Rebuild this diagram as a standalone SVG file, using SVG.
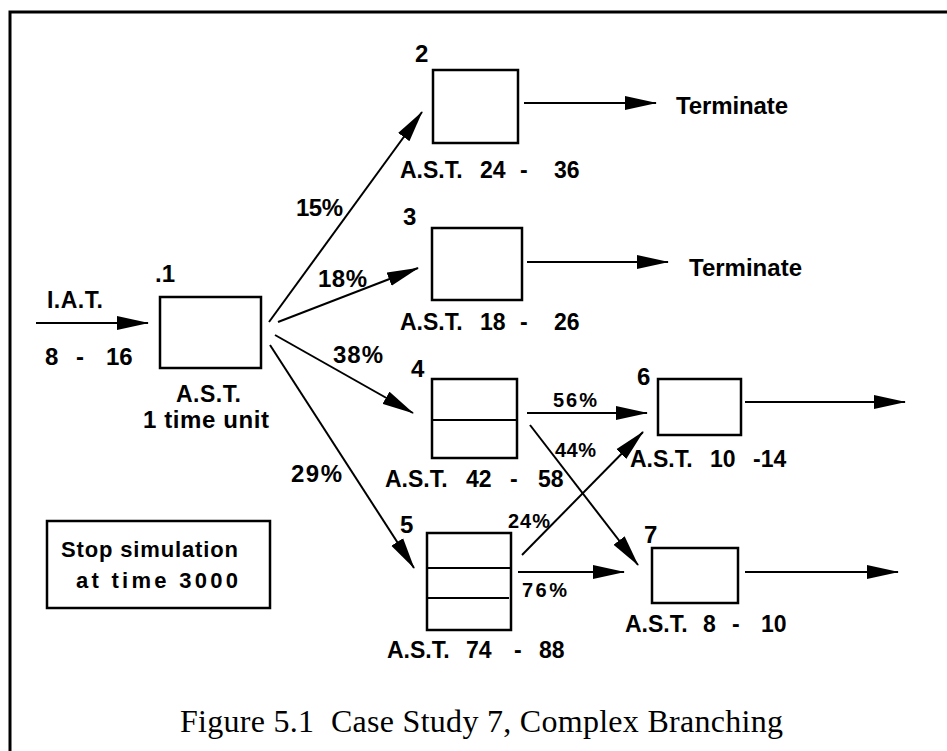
<svg xmlns="http://www.w3.org/2000/svg" width="947" height="751" viewBox="0 0 947 751">
<style>
.t{font-family:"Liberation Sans",Arial,sans-serif;font-weight:bold;font-size:24px;fill:#000}
.a{font-size:23px}
.s{font-size:23px}
.m{font-size:22px}
.p{font-size:20px}
.cap{font-family:"Liberation Serif","Times New Roman",serif;font-size:32px;fill:#000}
.box{fill:#fff;stroke:#000;stroke-width:2.5}
.div{stroke:#000;stroke-width:2}
.c{stroke:#000;stroke-width:2;fill:none;marker-end:url(#ah)}
</style>
<defs>
<marker id="ah" markerUnits="userSpaceOnUse" markerWidth="32" markerHeight="15" refX="31" refY="7.5" orient="auto" viewBox="0 0 32 15">
<path d="M0,0.5 L32,7.5 L0,14.5 z" fill="#000"/>
</marker>
</defs>
<rect width="947" height="751" fill="#fff"/>
<path d="M10,751 L10,12 L947,12" fill="none" stroke="#000" stroke-width="3"/>

<g id="connectors">
<line class="c" x1="36" y1="323" x2="148" y2="323"/>
<line class="c" x1="269" y1="322" x2="422" y2="112"/>
<line class="c" x1="278" y1="322" x2="418" y2="268"/>
<line class="c" x1="275" y1="335" x2="413" y2="413"/>
<line class="c" x1="270" y1="345" x2="414" y2="568"/>
<line class="c" x1="524" y1="103" x2="656" y2="103"/>
<line class="c" x1="527" y1="262" x2="668" y2="262"/>
<line class="c" x1="527" y1="413" x2="647" y2="413"/>
<line class="c" x1="530" y1="425" x2="638" y2="565"/>
<line class="c" x1="522" y1="555" x2="643" y2="432"/>
<line class="c" x1="518" y1="572" x2="624" y2="572"/>
<line class="c" x1="745" y1="402" x2="905" y2="402"/>
<line class="c" x1="745" y1="572" x2="898" y2="572"/>
</g>

<g id="labels">
<text class="t s" x="47" y="308" textLength="56">I.A.T.</text>
<text class="t" y="365"><tspan x="45">8</tspan> <tspan x="76">-</tspan> <tspan x="106">16</tspan></text>
<text class="t" x="296" y="216" textLength="47">15%</text>
<text class="t" x="318" y="287" textLength="49">18%</text>
<text class="t" x="333" y="363" textLength="50">38%</text>
<text class="t" x="291" y="482" textLength="51">29%</text>
<text class="t p" x="553" y="407" textLength="44">56%</text>
<text class="t p" x="555" y="457" textLength="41">44%</text>
<text class="t p" x="508" y="528" textLength="42">24%</text>
<text class="t p" x="522" y="597" textLength="45">76%</text>
<text class="t" x="676" y="114" textLength="112">Terminate</text>
<text class="t" x="689" y="276" textLength="113">Terminate</text>
</g>

<g id="node1">
<rect class="box" x="160" y="297" width="101" height="71"/>
<text class="t" x="155" y="282">.1</text>
<text class="t a" x="176" y="402" textLength="65">A.S.T.</text>
<text class="t" x="143" y="428" textLength="126">1 time unit</text>
</g>

<g id="node2">
<rect class="box" x="433" y="70" width="85" height="73"/>
<text class="t" x="415" y="62">2</text>
<text class="t a" y="178"><tspan x="400">A.S.T.</tspan> <tspan x="480">24</tspan> <tspan x="520">-</tspan> <tspan x="554">36</tspan></text>
</g>

<g id="node3">
<rect class="box" x="432" y="228" width="90" height="72"/>
<text class="t" x="403" y="225">3</text>
<text class="t a" y="330"><tspan x="400">A.S.T.</tspan> <tspan x="480">18</tspan> <tspan x="520">-</tspan> <tspan x="554">26</tspan></text>
</g>

<g id="node4">
<rect class="box" x="432" y="379" width="85" height="79"/>
<line class="div" x1="432" y1="420" x2="517" y2="420"/>
<text class="t" x="411" y="377">4</text>
<text class="t a" y="487"><tspan x="385">A.S.T.</tspan> <tspan x="466">42</tspan> <tspan x="510">-</tspan> <tspan x="538">58</tspan></text>
</g>

<g id="node5">
<rect class="box" x="427" y="533" width="84" height="97"/>
<line class="div" x1="427" y1="568" x2="511" y2="568"/>
<line class="div" x1="427" y1="598" x2="509" y2="598"/>
<text class="t" x="400" y="533">5</text>
<text class="t a" y="658"><tspan x="387">A.S.T.</tspan> <tspan x="466">74</tspan> <tspan x="514">-</tspan> <tspan x="539">88</tspan></text>
</g>

<g id="node6">
<rect class="box" x="658" y="379" width="83" height="56"/>
<text class="t" x="637" y="385">6</text>
<text class="t a" y="467"><tspan x="630">A.S.T.</tspan> <tspan x="710">10</tspan> <tspan x="753">-14</tspan></text>
</g>

<g id="node7">
<rect class="box" x="652" y="548" width="86" height="55"/>
<text class="t" x="644" y="543">7</text>
<text class="t a" y="632"><tspan x="625">A.S.T.</tspan> <tspan x="703">8</tspan> <tspan x="732">-</tspan> <tspan x="761">10</tspan></text>
</g>

<g id="stop">
<rect class="box" x="47" y="521" width="223" height="87"/>
<text class="t m" x="61" y="557" textLength="177">Stop simulation</text>
<text class="t m" x="76" y="588" textLength="162">at time 3000</text>
</g>

<text class="cap" x="180" y="732" textLength="603">Figure 5.1&#160; Case Study 7, Complex Branching</text>
</svg>
